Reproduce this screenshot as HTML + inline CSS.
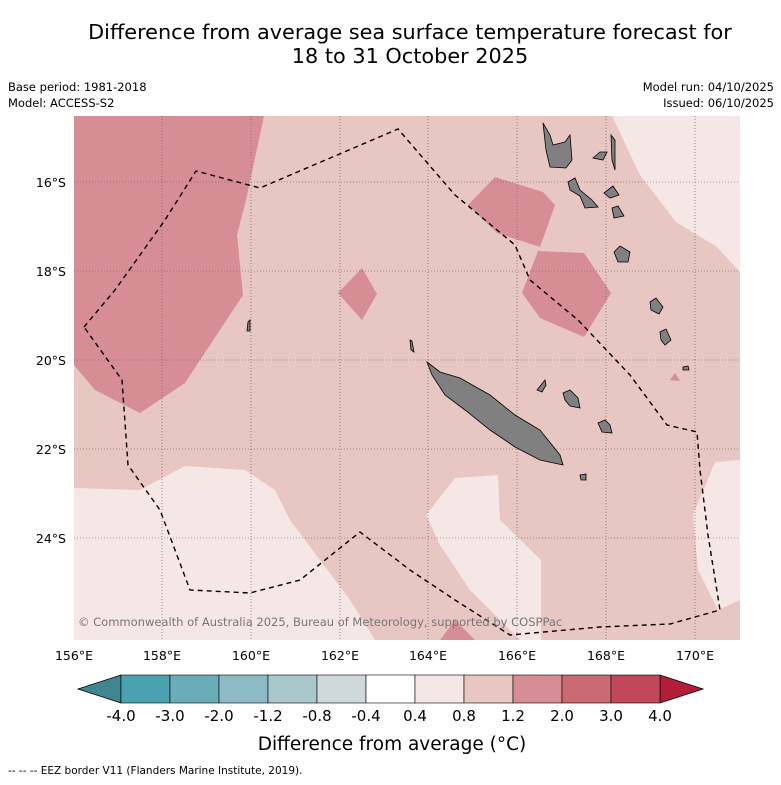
<!DOCTYPE html>
<html><head><meta charset="utf-8"><style>
body{margin:0;background:#fff;font-family:"DejaVu Sans","Liberation Sans",sans-serif;}
svg text{font-family:"DejaVu Sans","Liberation Sans",sans-serif;}
</style></head><body>
<svg width="781" height="781" viewBox="0 0 781 781">
<text x="410" y="39" font-size="20.8" text-anchor="middle">Difference from average sea surface temperature forecast for</text>
<text x="410" y="63" font-size="20.8" text-anchor="middle">18 to 31 October 2025</text>
<text x="8" y="91" font-size="11.5">Base period: 1981-2018</text>
<text x="8" y="107" font-size="11.5">Model: ACCESS-S2</text>
<text x="774" y="91" font-size="11.5" text-anchor="end">Model run: 04/10/2025</text>
<text x="774" y="107" font-size="11.5" text-anchor="end">Issued: 06/10/2025</text>
<defs><clipPath id="mc"><rect x="74" y="116" width="666" height="524"/></clipPath></defs>
<g clip-path="url(#mc)">
<rect x="74" y="116" width="666" height="524" fill="#e8c6c1"/>
<g fill="#d68e94">
<polygon points="74,116 264,116 246,200 237,235 243,295 210,345 185,383 140,413 95,390 74,365"/>
<polygon points="362,268 377,294 362,320 338,293"/>
<polygon points="495,177 543,192 555,205 540,247 497,233 468,205"/>
<polygon points="538,251 584,253 611,293 584,337 540,318 522,293"/>
<polygon points="440,640 455,620 475,640"/>
<polygon points="670,380 675,373 680,381"/>
</g>
<g fill="#f5e7e5">
<polygon points="612,116 740,116 740,272 717,247 676,222 640,175"/>
<polygon points="74,488 140,490 185,466 245,470 275,490 290,520 320,560 350,600 375,640 74,640"/>
<polygon points="426,515 455,478 498,475 500,520 541,560 541,640 520,640 470,590 440,545"/>
<polygon points="740,460 715,462 693,515 698,570 718,610 740,600"/>
</g>
<g stroke="#555" stroke-width="0.6" stroke-dasharray="1,2">
<line x1="162" y1="116" x2="162" y2="640"/><line x1="251" y1="116" x2="251" y2="640"/>
<line x1="340" y1="116" x2="340" y2="640"/><line x1="428" y1="116" x2="428" y2="640"/>
<line x1="517" y1="116" x2="517" y2="640"/><line x1="606" y1="116" x2="606" y2="640"/>
<line x1="695" y1="116" x2="695" y2="640"/>
<line x1="74" y1="182" x2="740" y2="182"/><line x1="74" y1="271" x2="740" y2="271"/>
<line x1="74" y1="360" x2="740" y2="360"/><line x1="74" y1="449" x2="740" y2="449"/>
<line x1="74" y1="538" x2="740" y2="538"/>
</g>
<g fill="#808080" stroke="#000" stroke-width="0.8">
<polygon points="427,362 440,372 460,378 490,395 515,415 540,430 560,455 563,465 540,460 515,447 490,430 465,410 445,395 432,375"/>
<polygon points="543,123 550,135 553,145 565,142 570,135 572,160 566,168 550,167 546,150"/>
<polygon points="593,158 600,152 607,152 603,160"/>
<polygon points="611,135 615,140 615,170 612,160"/>
<polygon points="568,182 575,178 580,190 592,200 598,207 585,208 580,196 570,190"/>
<polygon points="604,193 613,186 619,195 610,198"/>
<polygon points="612,208 618,206 624,216 614,218"/>
<polygon points="614,252 620,246 630,252 628,262 618,262"/>
<polygon points="650,302 656,298 663,307 659,314 651,310"/>
<polygon points="660,332 666,329 671,340 665,345 661,340"/>
<polygon points="563,393 570,390 578,398 580,408 570,406 565,400"/>
<polygon points="598,423 605,420 610,425 612,433 602,432"/>
<polygon points="537,390 545,380 546,385 542,392"/>
<polygon points="580,475 586,474 586,480 581,480"/>
<polygon points="683,367 688,366 689,370 683,370"/>
<polygon points="248,322 250,320 250,331 247,331"/>
<polygon points="410,340 412,341 414,352 411,350"/>
</g>
<polyline fill="none" stroke="#000" stroke-width="1.4" stroke-dasharray="5,4" points="84,327 115,290 165,220 196,171 260,188 398,129 455,195 515,245 530,280 578,320 630,375 667,425 697,432 700,470 708,535 720,610 670,624 600,627 510,635 455,600 410,570 360,532 300,580 250,593 190,590 160,510 128,465 122,380 84,327"/>
<text x="78" y="626" font-size="11.5" fill="#777">© Commonwealth of Australia 2025, Bureau of Meteorology, supported by COSPPac</text>
</g>
<g font-size="12.5">
<text x="74" y="660" text-anchor="middle">156°E</text><text x="162" y="660" text-anchor="middle">158°E</text>
<text x="251" y="660" text-anchor="middle">160°E</text><text x="340" y="660" text-anchor="middle">162°E</text>
<text x="428" y="660" text-anchor="middle">164°E</text><text x="517" y="660" text-anchor="middle">166°E</text>
<text x="606" y="660" text-anchor="middle">168°E</text><text x="695" y="660" text-anchor="middle">170°E</text>
<text x="66" y="187" text-anchor="end">16°S</text><text x="66" y="276" text-anchor="end">18°S</text>
<text x="66" y="365" text-anchor="end">20°S</text><text x="66" y="454" text-anchor="end">22°S</text>
<text x="66" y="543" text-anchor="end">24°S</text>
</g>
<g id="cbar"></g>
<text x="392" y="750" font-size="18.5" text-anchor="middle">Difference from average (<tspan font-style="italic">°</tspan>C)</text>
<text x="8" y="774" font-size="10.5">-- -- -- EEZ border V11 (Flanders Marine Institute, 2019).</text>
</svg>
<script>
const cbColors=["#4aa2b1","#6aadb9","#8dbac4","#a9c8cc","#cfd9da","#ffffff","#f5e7e5","#e8c6c1","#d68e94","#cc6a74","#c04858"];
const cbTicks=["-4.0","-3.0","-2.0","-1.2","-0.8","-0.4","0.4","0.8","1.2","2.0","3.0","4.0"];
const g=document.getElementById('cbar');const ns="http://www.w3.org/2000/svg";
const x0=121,x1=660,y0=675,h=28,w=(x1-x0)/cbColors.length;
function mk(t,a){const e=document.createElementNS(ns,t);for(const k in a)e.setAttribute(k,a[k]);g.appendChild(e);return e;}
let l=mk('polygon',{points:`78,${y0+h/2} ${x0},${y0} ${x0},${y0+h}`,fill:'#3f8690',stroke:'#000','stroke-width':0.8});


let r=mk('polygon',{points:`703,${y0+h/2} ${x1},${y0} ${x1},${y0+h}`,fill:'#b01e3a',stroke:'#000','stroke-width':0.8});


cbColors.forEach((c,i)=>{const e=mk('rect',{x:x0+i*w,y:y0,width:w,height:h,fill:c,stroke:'#000','stroke-width':0.6});

});
cbTicks.forEach((t,i)=>{const e=mk('text',{x:x0+i*w,y:721,'font-size':15,'text-anchor':'middle'});e.textContent=t;

});
</script>
</body></html>
